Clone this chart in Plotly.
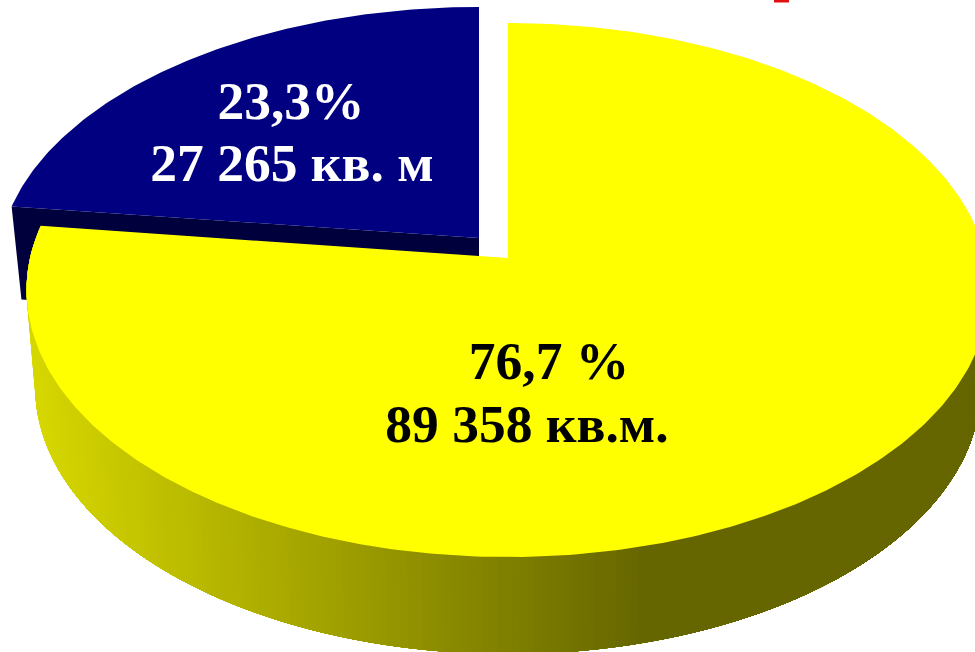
import numpy as np
import plotly.graph_objects as go

# Data
shares = [76.7, 23.3]
areas = ["89 358 кв.м.", "27 265 кв. м"]
share_labels = ["76,7 %", "23,3%"]
slice_colors = ["#ffff00", "#000080"]
blue_side_color = "#00003c"
shade_x = [30, 640]
shade_level = [215, 102]

W, H = 975, 652
K = 0.1198
A, B = 478.0, 263.2
DEPTH, BOTTOM_SCALE = 97.0, 0.982
ARC_TWEAK = -1.0

yellow_apex = (508.0, 258.0)
blue_apex = (479.0, 238.0)
blue_scale = (1.0, 0.983)


def ring(t_deg, apex, sx=1.0, sy=1.0, drop=0.0):
    t = np.radians(t_deg)
    u, v = np.sin(t), np.cos(t)
    w = 1 + K * v
    return apex[0] + A * sx * u / w, apex[1] - B * sy * v / w + drop


fig = go.Figure()


def poly(x, y, color):
    fig.add_trace(go.Scatter(x=np.asarray(x), y=np.asarray(y), mode="lines", fill="toself",
                             fillcolor=color, line=dict(width=0, color=color),
                             hoverinfo="skip", showlegend=False))


blue_span = shares[1] / sum(shares) * 360 + ARC_TWEAK
boundary = 360 - blue_span

# dark radial wall of the pulled-out blue slice
cx, cy = ring(-blue_span, blue_apex, *blue_scale)
bx, by = ring(-blue_span, blue_apex, blue_scale[0] * 0.979, blue_scale[1], 93)
poly([blue_apex[0], cx, bx, blue_apex[0]],
     [blue_apex[1], cy, by, blue_apex[1] + 93], blue_side_color)

# blue top face
ts = np.linspace(-blue_span, 0, 120)
x, y = ring(ts, blue_apex, *blue_scale)
poly(np.r_[blue_apex[0], x], np.r_[blue_apex[1], y], slice_colors[1])

# yellow rim: strips painted from left to right so no seams show
t_end = 85.0
for t_i in np.linspace(boundary, t_end + 1, 240):
    ts = np.linspace(t_i, t_end, 90)
    xt, yt = ring(ts, yellow_apex)
    xb, yb = ring(ts[::-1], yellow_apex, BOTTOM_SCALE, 1.0, DEPTH)
    g = int(round(np.interp(xt[0], shade_x, shade_level)))
    poly(np.r_[xt, xb], np.r_[yt, yb], f"rgb({g},{g},0)")

# yellow top face
ts = np.linspace(0, boundary, 400)
x, y = ring(ts, yellow_apex)
poly(np.r_[yellow_apex[0], x], np.r_[yellow_apex[1], y], slice_colors[0])

# clipped red remnant at the upper edge
fig.add_trace(go.Scatter(x=[774, 789], y=[1, 1], mode="lines", line=dict(color="#e01010", width=3),
                         hoverinfo="skip", showlegend=False))

font = "Liberation Serif"
size = 53.5
fig.add_trace(go.Scatter(x=[291, 292, 549, 527], y=[106, 168, 366, 429], mode="text",
                         text=[f"<b>{share_labels[1]}</b>", f"<b>{areas[1]}</b>",
                               f"<b>{share_labels[0]}</b>", f"<b>{areas[0]}</b>"],
                         textposition="middle center",
                         textfont=dict(family=font, size=size,
                                       color=["#ffffff", "#ffffff", "#000000", "#000000"]),
                         hoverinfo="skip", showlegend=False))

fig.update_layout(width=W, height=H, margin=dict(l=0, r=0, t=0, b=0),
                  paper_bgcolor="#ffffff", plot_bgcolor="#ffffff", showlegend=False,
                  xaxis=dict(range=[0, W], visible=False, fixedrange=True),
                  yaxis=dict(range=[H, 0], visible=False, fixedrange=True))
fig.write_html("out.html", post_script="document.body.style.margin='0';document.body.style.overflow='hidden';",
               config={"displayModeBar": False})
